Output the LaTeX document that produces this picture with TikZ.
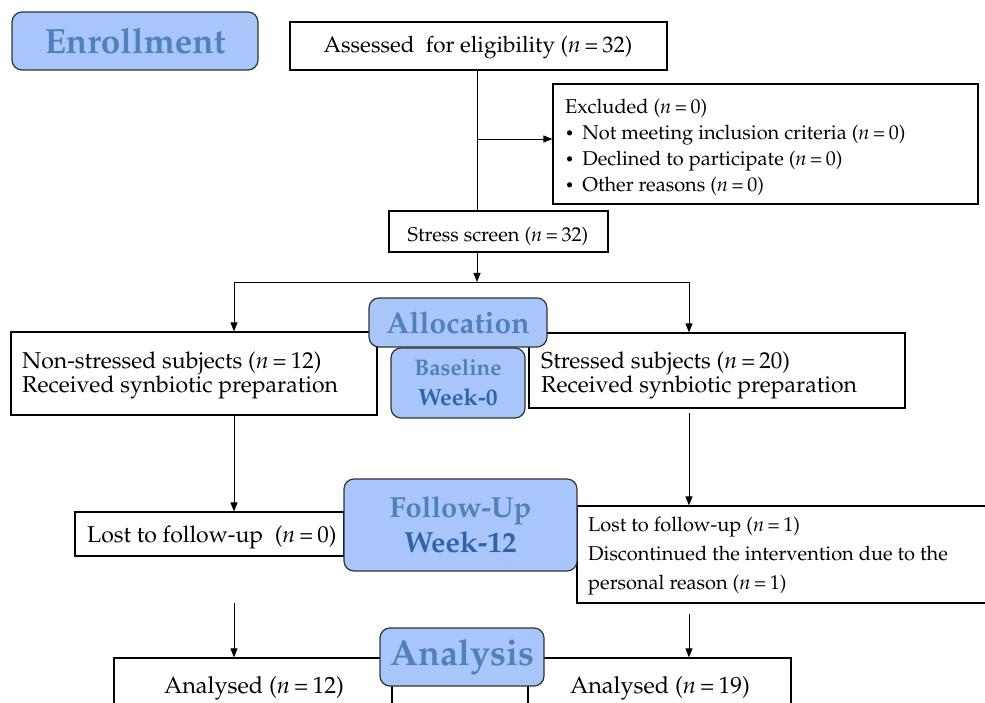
\documentclass[tikz,border=0pt]{standalone}
\usepackage[T1]{fontenc}
\usepackage{mathpazo}
\usetikzlibrary{arrows.meta}
\definecolor{labfill}{RGB}{169,198,250}
\definecolor{labblue}{RGB}{79,129,189}
\definecolor{labdark}{RGB}{47,101,168}
\newcommand{\myfs}[2]{\fontsize{#1}{#2}\selectfont}
\newcommand{\nn}[1]{(\textit{n}\hspace{0.18em}=\hspace{0.18em}#1)}
\newcommand{\bul}{\raisebox{1pt}{\myfs{15}{15}\textbullet}\hspace{8pt}}
\begin{document}
\begin{tikzpicture}[x=1pt,y=-1pt,
  box/.style={draw=black, line width=1.2pt, fill=white, inner sep=0pt},
  lab/.style={draw=black!80, line width=1.2pt, fill=labfill, rounded corners=10pt, inner sep=0pt, text=labblue, font=\bfseries},
  txt/.style={inner sep=0pt},
  arr/.style={-{Triangle[length=9pt,width=7pt]}, line width=0.9pt},
  ln/.style={line width=0.9pt}]
\useasboundingbox (0,0) rectangle (985,703);
\clip (0,0) rectangle (985,703);

% main boxes
\node[box, minimum width=377, minimum height=48] (ass) at (478.5,46) {};
\node[txt, font=\myfs{22.5}{22}] (asst) at (478,47.5) {Assessed\ \ for eligibility \nn{32}};
\node[box, minimum width=425, minimum height=120] (exc) at (765.5,144) {};
\node[txt, anchor=north west, align=left, font=\myfs{20}{26}] (exct) at (565,99) {Excluded \nn{0}\\
\bul Not meeting inclusion criteria \nn{0}\\
\bul Declined to participate \nn{0}\\
\bul Other reasons \nn{0}};
\node[box, minimum width=219, minimum height=41] (scr) at (498.5,231.5) {};
\node[txt, font=\myfs{20}{20}] (scrt) at (498,236) {Stress screen \nn{32}};

\node[box, minimum width=366, minimum height=83] (nons) at (194,373.5) {};
\node[txt, anchor=north west, align=left, font=\myfs{23}{22}] (nonst) at (22,352) {Non-stressed subjects \nn{12}\\Received synbiotic preparation};
\node[box, minimum width=376, minimum height=75] (str) at (717,370.5) {};
\node[txt, anchor=north west, align=left, font=\myfs{23}{22}] (strt) at (541,352) {Stressed subjects \nn{20}\\Received synbiotic preparation};

\node[box, minimum width=269, minimum height=44] (lost0) at (209.5,534) {};
\node[txt, anchor=west, font=\myfs{23}{23}] (lost0t) at (87,537) {Lost to follow-up\ \ \nn{0}};
\node[box, minimum width=423, minimum height=97] (lost1) at (788.5,554.5) {};
\node[txt, anchor=north west, align=left, font=\myfs{20}{29}] (lost1t) at (588,517) {Lost to follow-up \nn{1}\\Discontinued the intervention due to the\\personal reason \nn{1}};

\node[box, minimum width=278, minimum height=82] (an1) at (253,699) {};
\node[txt, font=\myfs{23.5}{23}] (an1t) at (254,688) {Analysed \nn{12}};
\node[box, minimum width=263, minimum height=82] (an2) at (659.5,699) {};
\node[txt, font=\myfs{23.5}{23}] (an2t) at (660,688) {Analysed \nn{19}};

% connectors
\coordinate (j1) at (477,139);
\coordinate (split) at (477,282);
\coordinate (cl) at (234,282);
\coordinate (cr) at (689,282);
\coordinate (r1) at (689,413);
\coordinate (a1) at (234,603);
\coordinate (a2) at (689,614);
\draw[ln] (j1 |- ass.south) -- (j1 |- scr.north);
\draw[arr] (j1) -- (j1 -| exc.west);
\draw[arr] (split |- scr.south) -- (split);
\draw[ln] (cl) -- (cr);
\draw[arr] (cl) -- (cl |- nons.north);
\draw[arr] (cr) -- (cr |- str.north);
\draw[arr] (cl |- nons.south) -- (cl |- lost0.north);
\draw[arr] (r1) -- (r1 |- lost1.north);
\draw[arr] (a1) -- (a1 |- an1.north);
\draw[arr] (a2) -- (a2 |- an2.north);

% stage labels
\node[lab, minimum width=246, minimum height=58, font=\myfs{35}{35}\bfseries] (enr) at (135,41) {Enrollment};
\node[lab, minimum width=178, minimum height=49, font=\myfs{30}{30}\bfseries] (alloc) at (458,322.5) {Allocation};
\node[lab, minimum width=134, minimum height=70, align=center, font=\myfs{22.5}{30}\bfseries] (base) at (458,383) {Baseline\\\textcolor{labdark}{\myfs{23.5}{30}Week-0}};
\node[lab, minimum width=233, minimum height=92, align=center, font=\myfs{29}{35}\bfseries] (fup) at (460.5,525) {Follow-Up\\\textcolor{labdark}{\myfs{29}{35}Week-12}};
\node[lab, minimum width=164, minimum height=58, font=\myfs{36}{36}\bfseries] (ana) at (462,657) {Analysis};
\end{tikzpicture}
\end{document}
